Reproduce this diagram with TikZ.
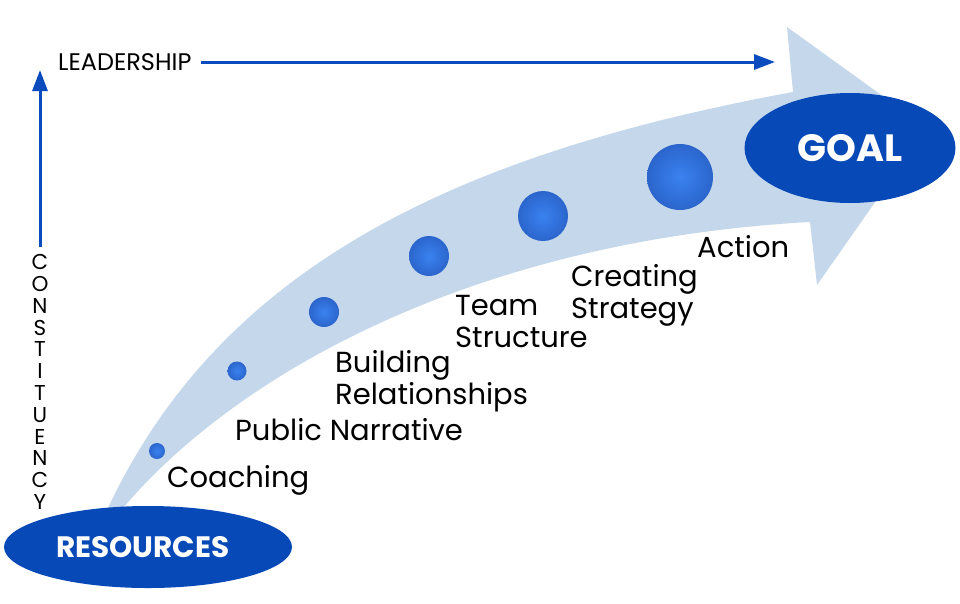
\documentclass[tikz,border=0pt]{standalone}
\usepackage{fontspec}
\setmainfont{Poppins}
\usetikzlibrary{shapes.geometric,arrows.meta}
\definecolor{dblue}{RGB}{8,73,184}
\definecolor{bandblue}{RGB}{197,216,235}
\definecolor{lineblue}{RGB}{10,76,190}
\definecolor{ballin}{RGB}{58,130,240}
\definecolor{ballout}{RGB}{28,72,168}
\pgfdeclareradialshading{ballshade}{\pgfpoint{0bp}{0bp}}{color(0bp)=(ballin); color(20bp)=(ballin!60!ballout); color(50bp)=(ballout)}
\tikzset{
  ball/.style={circle, shading=ballshade, inner sep=0pt, outer sep=0pt},
  bigoval/.style={ellipse, fill=dblue, inner sep=0pt, text=white, font=\bfseries},
  steplabel/.style={anchor=base west, inner sep=0pt, align=left, font=\fontsize{29}{32}\selectfont},
  axisarrow/.style={draw=lineblue, line width=3pt, -{Triangle[length=21pt,width=15pt]}}
}
\begin{document}
\begin{tikzpicture}[x=1pt,y=-1pt]
\useasboundingbox[fill=white] (0,0) rectangle (960,603);
% curved band arrow
\fill[bandblue] (108,508) .. controls (220,270) and (450,155) .. (793,92)
  -- (787,27) -- (927,128) -- (817,285) -- (810,222)
  .. controls (480,240) and (240,370) .. (123,508) -- cycle;
% balls
\node[ball, minimum size=16pt] (b1) at (157,451) {};
\node[ball, minimum size=19pt] (b2) at (237,371) {};
\node[ball, minimum size=30pt] (b3) at (324,312) {};
\node[ball, minimum size=40pt] (b4) at (429,256) {};
\node[ball, minimum size=50pt] (b5) at (543,216) {};
\node[ball, minimum size=66pt] (b6) at (680,177) {};
% ovals
\node[bigoval, minimum width=211pt, minimum height=110pt, font=\bfseries\fontsize{38}{40}\selectfont] (goal) at (850,148) {GOAL};
\node[bigoval, minimum width=288pt, minimum height=82pt, font=\bfseries\fontsize{29.5}{31}\selectfont] (res) at (148,547) {\hspace*{-10pt}RESOURCES};
% labels (base west = baseline of last line)
\node[steplabel] (l1) at (167,487) {Coaching};
\node[steplabel] (l2) at (235,440) {Public Narrative};
\node[steplabel] (l3) at (335,404) {Building\\Relationships};
\node[steplabel] (l4) at (455,347) {Team\\Structure};
\node[steplabel] (l5) at (571,318) {Creating\\Strategy};
\node[steplabel] (l6) at (697,257) {Action};
% axes
\node[anchor=west, inner sep=0pt, font=\fontsize{24}{26}\selectfont] (lead) at (58,62) {LEADERSHIP};
\coordinate (leadtip) at (775,62);
\draw[axisarrow, shorten <=9pt] (lead.east) -- (leadtip);
\node[inner sep=0pt, align=center, font=\fontsize{21.5}{21.8}\selectfont] (const) at (40,382)
  {C\\O\\N\\S\\T\\I\\T\\U\\E\\N\\C\\Y};
\coordinate (consttip) at (40,70);
\draw[axisarrow, shorten <=7pt] (const.north) -- (consttip);
\end{tikzpicture}
\end{document}
